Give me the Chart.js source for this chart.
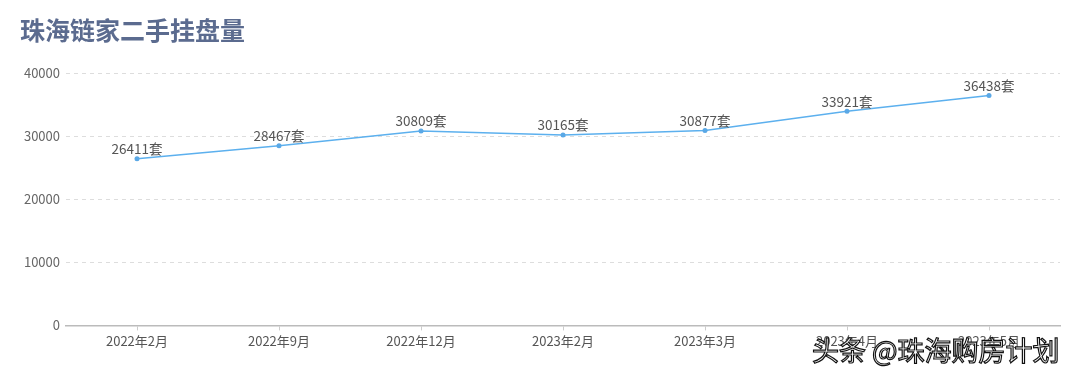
<!DOCTYPE html>
<html>
<head>
<meta charset="utf-8">
<script src="https://cdn.jsdelivr.net/npm/chart.js@4"></script>
<style>
html,body{margin:0;padding:0;background:#fff;}
#wrap{position:relative;width:1080px;height:375px;}
#wm{position:absolute;left:812px;top:330px;font-family:"Noto Sans CJK SC";font-size:27px;color:#fff;
  -webkit-text-stroke:1.2px #111;letter-spacing:0px;white-space:nowrap;}
</style>
</head>
<body>
<div id="wrap">
<canvas id="c" width="1080" height="375"></canvas>
<div id="wm">头条 @珠海购房计划</div>
</div>
<script>
const titleText = "珠海链家二手挂盘量";
const categories = ["2022年2月","2022年9月","2022年12月","2023年2月","2023年3月","2023年4月","2023年5月"];
const listings = [26411, 28467, 30809, 30165, 30877, 33921, 36438];
const unit = "套";
const yTicks = [0, 10000, 20000, 30000, 40000];

const FONT = '"Noto Sans CJK SC", "Noto Sans", sans-serif';

const labelPlugin = {
  id: 'valueLabels',
  afterDatasetsDraw(chart) {
    const ctx = chart.ctx;
    const meta = chart.getDatasetMeta(0);
    ctx.save();
    ctx.font = '13.5px ' + FONT;
    ctx.fillStyle = '#555';
    ctx.textAlign = 'center';
    ctx.textBaseline = 'bottom';
    meta.data.forEach((pt, i) => {
      ctx.fillText(listings[i] + unit, pt.x, pt.y - 3);
    });
    ctx.restore();
  }
};

new Chart(document.getElementById('c'), {
  type: 'line',
  data: {
    labels: categories,
    datasets: [{
      data: listings,
      borderColor: '#5cb0ee',
      backgroundColor: '#5cb0ee',
      borderWidth: 1.5,
      pointRadius: 2.5,
      pointBackgroundColor: '#5aa8e6',
      pointBorderWidth: 0,
      tension: 0
    }]
  },
  options: {
    responsive: false,
    animation: false,
    devicePixelRatio: 1,
    layout: { padding: { left: 20, right: 20, top: 0, bottom: 23 } },
    plugins: {
      legend: { display: false },
      tooltip: { enabled: false },
      title: {
        display: true,
        text: titleText,
        align: 'start',
        color: '#5b6b8f',
        font: { family: FONT, size: 25, weight: 'bold' },
        padding: { top: 15, bottom: 28 }
      }
    },
    scales: {
      x: {
        offset: true,
        grid: { display: true, drawOnChartArea: false, drawTicks: true, tickLength: 5, color: '#ccc' },
        border: { display: true, color: '#bbb', width: 1.5 },
        ticks: { color: '#555', font: { family: FONT, size: 13 }, padding: 3, maxRotation: 0, autoSkip: false }
      },
      y: {
        min: 0, max: 40000,
        afterBuildTicks(scale) { scale.ticks = yTicks.map(v => ({ value: v })); },
        afterFit(scale) { scale.width = 46; },
        grid: { color: '#ddd', drawTicks: false },
        border: { display: false, dash: [4, 4] },
        ticks: { color: '#666', font: { family: FONT, size: 13 }, padding: 6, callback: v => String(v) }
      }
    }
  },
  plugins: [labelPlugin]
});
</script>
</body>
</html>
